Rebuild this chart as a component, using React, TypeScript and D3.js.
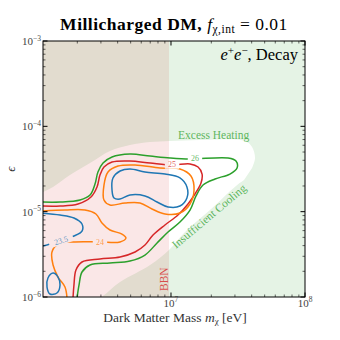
import React from 'react';
import * as d3 from 'd3';

const W = 340;
const H = 340;
const margin = { top: 41, right: 35, bottom: 43, left: 43 };

// axis ranges
const massDomain = [Math.pow(10, 6.045), 1e8];
const epsDomain = [1e-6, 1e-3];
const xTickExps = [7, 8];
const yTickExps = [-6, -5, -4, -3];
const bbnLogMass = 6.985;

// contours, points are [log10 m (eV), log10 eps]
const contour26 = [
  [6.299, -6.01], [6.314, -5.859], [6.336, -5.707], [6.396, -5.625], [6.545, -5.602],
  [6.694, -5.578], [6.806, -5.508], [6.896, -5.367], [6.978, -5.238], [7.067, -5.121],
  [7.142, -4.981], [7.187, -4.816], [7.239, -4.688], [7.329, -4.617], [7.44, -4.559],
  [7.493, -4.488], [7.485, -4.406], [7.426, -4.371], [7.142, -4.383], [6.993, -4.371],
  [6.844, -4.348], [6.694, -4.324], [6.56, -4.359], [6.493, -4.43], [6.455, -4.535],
  [6.433, -4.676], [6.396, -4.805], [6.321, -4.863], [6.172, -4.887], [6.03, -4.887],
];
const contour25 = [
  [6.269, -6.01], [6.276, -5.859], [6.291, -5.684], [6.336, -5.59], [6.47, -5.555],
  [6.62, -5.531], [6.732, -5.473], [6.806, -5.391], [6.866, -5.274], [6.955, -5.156],
  [7.052, -5.039], [7.127, -4.91], [7.179, -4.793], [7.224, -4.664], [7.232, -4.559],
  [7.202, -4.477], [7.142, -4.441], [7.008, -4.453], [6.844, -4.43], [6.694, -4.406],
  [6.56, -4.418], [6.5, -4.477], [6.47, -4.57], [6.448, -4.711], [6.403, -4.828],
  [6.306, -4.91], [6.172, -4.934], [6.03, -4.934],
];
const contour24Loop = [
  [6.5, -4.863], [6.5, -4.688], [6.53, -4.535], [6.605, -4.465], [6.732, -4.453],
  [6.918, -4.488], [7.067, -4.5], [7.149, -4.582], [7.172, -4.746], [7.142, -4.91],
  [7.067, -5.016], [6.955, -5.027], [6.858, -4.969], [6.769, -4.898], [6.657, -4.898],
  [6.545, -4.922],
];
const contour24 = [
  [6.03, -4.992], [6.209, -4.98], [6.358, -4.98], [6.44, -5.027], [6.485, -5.133],
  [6.545, -5.215], [6.634, -5.262], [6.664, -5.309], [6.62, -5.355], [6.47, -5.355],
  [6.284, -5.355], [6.157, -5.379], [6.112, -5.473], [6.12, -5.625], [6.157, -5.766],
  [6.209, -5.883], [6.224, -6.01],
];
const contour235Loop = [
  [6.56, -4.746], [6.567, -4.605], [6.62, -4.523], [6.694, -4.5], [6.806, -4.535],
  [6.955, -4.559], [7.067, -4.605], [7.119, -4.711], [7.119, -4.84], [7.067, -4.934],
  [6.978, -4.945], [6.896, -4.887], [6.806, -4.816], [6.694, -4.805], [6.62, -4.852],
  [6.575, -4.84],
];
const contour235 = [
  [6.03, -5.016], [6.172, -5.039], [6.276, -5.074], [6.336, -5.145], [6.336, -5.227],
  [6.276, -5.285], [6.187, -5.332], [6.097, -5.379], [6.03, -5.41],
];
const contour235Small = [
  [6.12, -5.719], [6.157, -5.766], [6.172, -5.859], [6.149, -5.953], [6.097, -5.965],
  [6.075, -5.883], [6.082, -5.777],
];

// allowed region (between excess heating and insufficient cooling)
const heatingEdge = [
  [6.03, -4.781], [6.12, -4.711], [6.246, -4.57], [6.396, -4.43], [6.545, -4.289],
  [6.694, -4.219], [6.844, -4.184], [6.993, -4.172], [7.217, -4.16], [7.552, -4.172],
  [7.605, -4.242], [7.627, -4.371], [7.605, -4.488],
];
const coolingEdge = [
  [7.545, -4.629], [7.485, -4.699], [7.291, -4.981], [7.105, -5.238], [6.985, -5.449],
  [6.844, -5.625], [6.62, -5.824], [6.433, -6.035], [6.03, -6.035],
];

const contours = [
  { pts: contour26, closed: false, color: '#2ca02c' },
  { pts: contour25, closed: false, color: '#d62728' },
  { pts: contour24Loop, closed: true, color: '#ff7f0e' },
  { pts: contour24, closed: false, color: '#ff7f0e' },
  { pts: contour235Loop, closed: true, color: '#1f77b4' },
  { pts: contour235, closed: false, color: '#1f77b4' },
  { pts: contour235Small, closed: true, color: '#1f77b4' },
];

const contourLabels = [
  { text: '26', at: [7.179, -4.371], angle: 0, color: '#2ca02c' },
  { text: '25', at: [7.008, -4.45], angle: 0, color: '#d62728' },
  { text: '24', at: [6.47, -5.355], angle: 0, color: '#ff7f0e' },
  { text: '23.5', at: [6.18, -5.34], angle: -18, color: '#1f77b4' },
];

const serif = "'Liberation Serif', 'DejaVu Serif', serif";

const App = () => {
  const iw = W - margin.left - margin.right;
  const ih = H - margin.top - margin.bottom;
  const x = d3.scaleLog().domain(massDomain).range([margin.left, margin.left + iw]);
  const y = d3.scaleLog().domain(epsDomain).range([margin.top + ih, margin.top]);
  const px = (p) => x(Math.pow(10, p[0]));
  const py = (p) => y(Math.pow(10, p[1]));

  const openLine = d3.line().x(px).y(py).curve(d3.curveCatmullRom.alpha(0.5));
  const closedLine = d3.line().x(px).y(py).curve(d3.curveCatmullRomClosed.alpha(0.5));

  const allowedPath = openLine(heatingEdge) + 'L' + openLine(coolingEdge).slice(1) + 'Z';

  const minorX = [6, 7].flatMap(e => d3.range(2, 10).map(k => k * Math.pow(10, e)))
    .filter(v => v >= massDomain[0] && v <= massDomain[1]);
  const minorY = [-6, -5, -4].flatMap(e => d3.range(2, 10).map(k => k * Math.pow(10, e)));

  const left = margin.left, right = margin.left + iw, top = margin.top, bottom = margin.top + ih;

  return (
    <svg width={W} height={H} style={{ position: 'absolute', left: 0, top: 0, background: '#fff' }}
      fontFamily={serif}>
      <defs>
        <clipPath id="plot"><rect x={left} y={top} width={iw} height={ih} /></clipPath>
        <mask id="clabels">
          <rect x={0} y={0} width={W} height={H} fill="#fff" />
          {contourLabels.map((l, i) => (
            <rect key={i} x={-l.text.length * 2.6 - 2} y={-4} width={l.text.length * 5.2 + 4} height={8}
              fill="#000" transform={`translate(${px(l.at)},${py(l.at)}) rotate(${l.angle})`} />
          ))}
        </mask>
      </defs>

      {/* shaded regions */}
      <g clipPath="url(#plot)">
        <rect x={left} y={top} width={iw} height={ih} fill="#2ca02c" fillOpacity={0.12} />
        <path d={allowedPath} fill="#fff" />
        <rect x={left} y={top} width={x(Math.pow(10, bbnLogMass)) - left} height={ih}
          fill="#d62728" fillOpacity={0.11} />
      </g>

      {/* contours */}
      <g clipPath="url(#plot)" mask="url(#clabels)" fill="none" strokeWidth={1.5}>
        {contours.map((c, i) => (
          <path key={i} d={c.closed ? closedLine(c.pts) : openLine(c.pts)} stroke={c.color} />
        ))}
      </g>
      {contourLabels.map((l, i) => (
        <text key={i} fontSize={8} fill={l.color} fillOpacity={0.75} textAnchor="middle" dy="0.33em"
          transform={`translate(${px(l.at)},${py(l.at)}) rotate(${l.angle})`}>{l.text}</text>
      ))}

      {/* region annotations */}
      <text x={178} y={139} fontSize={11.5} fill="#2ca02c" fillOpacity={0.75}>Excess Heating</text>
      <text fontSize={11.5} fill="#2ca02c" fillOpacity={0.75} transform="translate(176,249) rotate(-40)">
        Insufficient Cooling</text>
      <text fontSize={11.5} fill="#d62728" fillOpacity={0.8} transform="translate(168,291) rotate(-90)">BBN</text>
      <text x={298} y={60} fontSize={16.5} textAnchor="end">
        <tspan fontStyle="italic">e</tspan><tspan fontSize={11} dy={-6.5}>+</tspan>
        <tspan fontStyle="italic" dy={6.5}>e</tspan><tspan fontSize={11} dy={-6.5}>−</tspan>
        <tspan dy={6.5}>, Decay</tspan>
      </text>

      {/* frame and ticks */}
      <rect x={left} y={top} width={iw} height={ih} fill="none" stroke="#000" strokeWidth={1} />
      <g stroke="#000">
        {minorX.map((v, i) => (
          <g key={'mx' + i} strokeWidth={0.6}>
            <line x1={x(v)} x2={x(v)} y1={bottom} y2={bottom - 2.5} />
            <line x1={x(v)} x2={x(v)} y1={top} y2={top + 2.5} />
          </g>
        ))}
        {xTickExps.map(e => (
          <g key={'x' + e} strokeWidth={1}>
            <line x1={x(Math.pow(10, e))} x2={x(Math.pow(10, e))} y1={bottom} y2={bottom - 4.5} />
            <line x1={x(Math.pow(10, e))} x2={x(Math.pow(10, e))} y1={top} y2={top + 4.5} />
          </g>
        ))}
        {minorY.map((v, i) => (
          <g key={'my' + i} strokeWidth={0.6}>
            <line x1={left} x2={left + 2.5} y1={y(v)} y2={y(v)} />
            <line x1={right} x2={right - 2.5} y1={y(v)} y2={y(v)} />
          </g>
        ))}
        {yTickExps.map(e => (
          <g key={'y' + e} strokeWidth={1}>
            <line x1={left} x2={left + 4.5} y1={y(Math.pow(10, e))} y2={y(Math.pow(10, e))} />
            <line x1={right} x2={right - 4.5} y1={y(Math.pow(10, e))} y2={y(Math.pow(10, e))} />
          </g>
        ))}
      </g>

      {/* tick labels */}
      <g fill="#444" fontSize={11}>
        {xTickExps.map(e => (
          <text key={'xl' + e} x={x(Math.pow(10, e))} y={bottom + 9.5} textAnchor="middle">
            10<tspan fontSize={7.5} dy={-4.5}>{e}</tspan>
          </text>
        ))}
        {yTickExps.map(e => (
          <text key={'yl' + e} x={left - 2} y={y(Math.pow(10, e)) + 4} textAnchor="end">
            10<tspan fontSize={7.5} dy={-4.5}>{'−' + Math.abs(e)}</tspan>
          </text>
        ))}
      </g>

      {/* axis labels and title */}
      <text x={175} y={321.5} fontSize={13.5} fill="#333" textAnchor="middle">
        Dark Matter Mass <tspan fontStyle="italic">m</tspan><tspan fontSize={9} dy={2}>χ</tspan>
        <tspan dy={-2}> [eV]</tspan>
      </text>
      <text fontSize={13} fill="#333" fontStyle="italic" textAnchor="middle"
        transform="translate(15,169) rotate(-90)">ϵ</text>
      <text x={174} y={30} fontSize={17.5} textAnchor="middle" letterSpacing={0.5}>
        <tspan fontWeight="bold">Millicharged DM, </tspan>
        <tspan fontStyle="italic">f</tspan><tspan fontSize={11.5} dy={3}>χ,int</tspan>
        <tspan dy={-3}> = 0.01</tspan>
      </text>
    </svg>
  );
};

export default App;
